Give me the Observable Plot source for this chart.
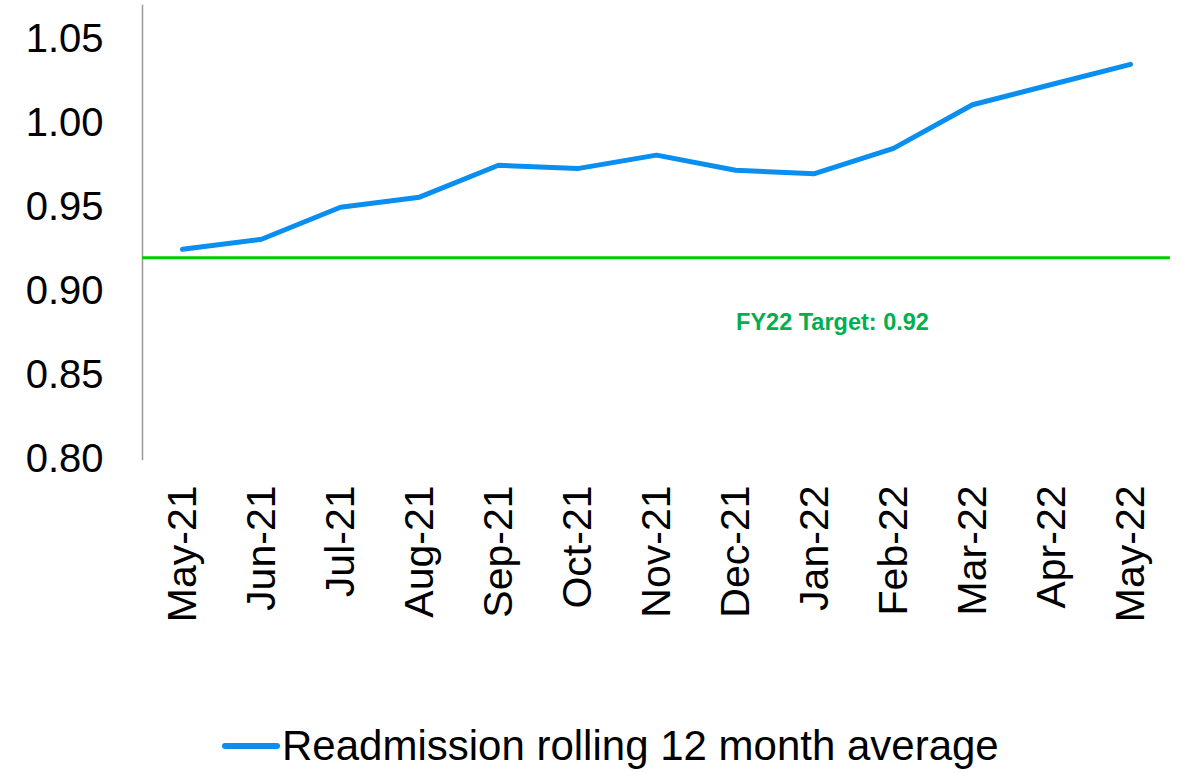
<!DOCTYPE html>
<html>
<head>
<meta charset="utf-8">
<script src="https://cdn.jsdelivr.net/npm/d3@7"></script>
<script src="https://cdn.jsdelivr.net/npm/@observablehq/plot@0.6"></script>
<style>
  html, body { margin: 0; padding: 0; background: #fff; }
  body { width: 1187px; height: 773px; overflow: hidden; font-family: "Liberation Sans", Arial, sans-serif; }
  #legend { display: flex; align-items: center; margin-top: 21px; margin-left: 222px; font-size: 42px; color: #000; line-height: 50px; }
  #legend .sw { width: 58px; height: 6px; border-radius: 3px; background: #0a8ff0; margin-right: 2px; }
</style>
</head>
<body>
<div id="chart"></div>
<div id="legend"><span class="sw"></span><span>Readmission rolling 12 month average</span></div>
<script>
const months = ["May-21","Jun-21","Jul-21","Aug-21","Sep-21","Oct-21","Nov-21","Dec-21","Jan-22","Feb-22","Mar-22","Apr-22","May-22"];
const values = [0.925, 0.931, 0.950, 0.956, 0.975, 0.973, 0.981, 0.972, 0.970, 0.985, 1.011, 1.023, 1.035];
const yTicks = [0.80, 0.85, 0.90, 0.95, 1.00, 1.05];
const target = 0.92;
const targetLabel = "FY22 Target: 0.92";

const data = months.map((m, i) => ({month: m, value: values[i]}));

const chart = Plot.plot({
  width: 1187,
  height: 700,
  marginLeft: 142,
  marginRight: 17,
  marginTop: 5,
  marginBottom: 241,
  style: {fontFamily: "'Liberation Sans', Arial, sans-serif", background: "#fff", color: "#000"},
  x: {type: "point", domain: months, padding: 0.5},
  y: {domain: [0.80, 1.07]},
  marks: [
    Plot.axisY({ticks: yTicks, tickFormat: d3.format(".2f"), tickSize: 0, tickPadding: 39, fontSize: 40, label: null}),
    Plot.axisX({tickSize: 0, tickPadding: 26, tickRotate: -90, fontSize: 41, label: null}),
    Plot.frame({anchor: "left", stroke: "#999", strokeWidth: 1.5}),
    Plot.ruleY([target], {stroke: "#00cc00", strokeWidth: 3}),
    Plot.text([targetLabel], {x: () => "Jan-22", y: () => target, text: d => d, dx: 18, dy: 65, fill: "#00b050", fontSize: 23.5, fontWeight: "bold"}),
    Plot.line(data, {x: "month", y: "value", stroke: "#0a8ff0", strokeWidth: 5, strokeLinecap: "round", strokeLinejoin: "round"})
  ]
});
document.getElementById("chart").appendChild(chart);
</script>
</body>
</html>
